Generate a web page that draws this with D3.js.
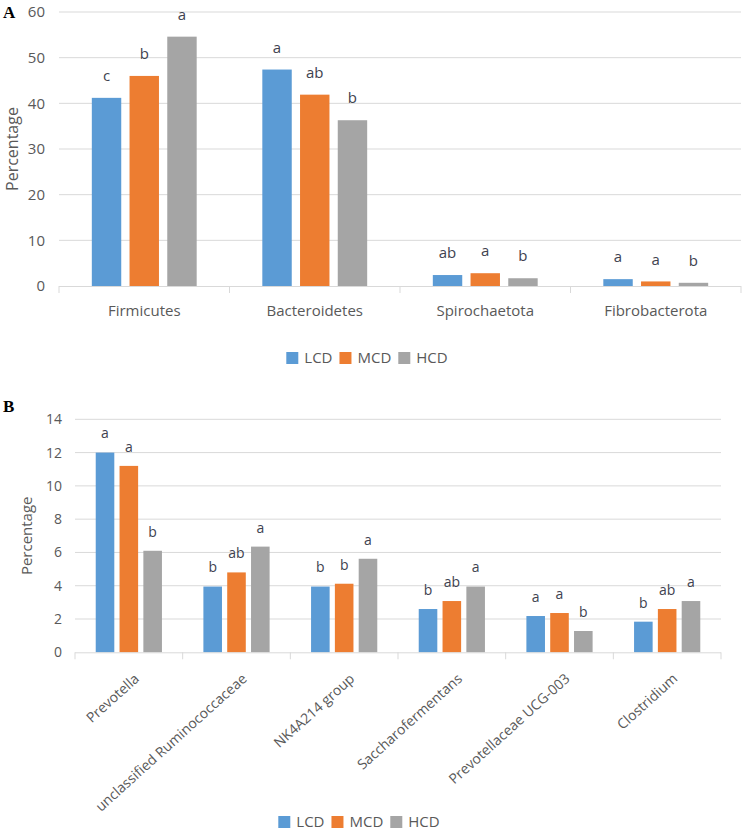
<!DOCTYPE html>
<html>
<head>
<meta charset="utf-8">
<script src="https://cdn.jsdelivr.net/npm/d3@7/dist/d3.min.js"></script>
<style>
  html, body { margin: 0; padding: 0; background: #ffffff; }
  svg { display: block; }
</style>
</head>
<body>
<svg id="chart" width="743" height="833"></svg>
<script>
// ---------- Data ----------
const seriesNames = ["LCD", "MCD", "HCD"];
const seriesColors = ["#5b9bd5", "#ed7d31", "#a5a5a5"];

const categoriesA = ["Firmicutes", "Bacteroidetes", "Spirochaetota", "Fibrobacterota"];
const lcdA = [41.2, 47.4, 2.4, 1.5];
const mcdA = [46.0, 41.9, 2.8, 1.0];
const hcdA = [54.6, 36.3, 1.7, 0.7];
const lettersLcdA = ["c", "a", "ab", "a"];
const lettersMcdA = ["b", "ab", "a", "a"];
const lettersHcdA = ["a", "b", "b", "b"];
const ticksA = [0, 10, 20, 30, 40, 50, 60];

const categoriesB = ["Prevotella", "unclassified Ruminococcaceae", "NK4A214 group",
                     "Saccharofermentans", "Prevotellaceae UCG-003", "Clostridium"];
const lcdB = [12.0, 3.95, 3.95, 2.6, 2.18, 1.84];
const mcdB = [11.2, 4.8, 4.12, 3.08, 2.36, 2.6];
const hcdB = [6.1, 6.35, 5.62, 3.95, 1.28, 3.08];
const lettersLcdB = ["a", "b", "b", "b", "a", "b"];
const lettersMcdB = ["a", "ab", "b", "ab", "a", "ab"];
const lettersHcdB = ["b", "a", "a", "a", "b", "a"];
const ticksB = [0, 2, 4, 6, 8, 10, 12, 14];

// ---------- Drawing ----------
const svg = d3.select("#chart");
const FONT = "'Open Sans', 'Noto Sans', sans-serif";
const GRID = "#d9d9d9";
const TXT = "#595959";
const LETTER = "#40424f";

function drawPanel(cfg) {
  const g = svg.append("g");
  const x0 = d3.scaleBand().domain(cfg.categories).range([cfg.left, cfg.right]).paddingInner(0).paddingOuter(0);
  const y = d3.scaleLinear().domain([0, cfg.yMax]).range([cfg.bottom, cfg.top]);
  const groupW = x0.bandwidth() * 0.615;
  const x1 = d3.scaleBand().domain(seriesNames).range([0, groupW]).paddingInner(0.22).paddingOuter(0);

  // gridlines
  g.append("g").selectAll("line").data(cfg.ticks.filter(t => t > 0)).join("line")
    .attr("x1", cfg.left).attr("x2", cfg.right)
    .attr("y1", d => y(d)).attr("y2", d => y(d))
    .attr("stroke", GRID).attr("stroke-width", 1);

  // y tick labels via axis
  const yAxis = d3.axisLeft(y).tickValues(cfg.ticks).tickSize(0).tickPadding(0).tickFormat(d3.format("d"));
  const ya = g.append("g").attr("transform", `translate(${cfg.yLabelRight},0)`).call(yAxis);
  ya.select(".domain").remove();
  ya.selectAll("text").attr("font-family", FONT).attr("font-size", cfg.tickFont).attr("fill", TXT);

  // bars
  const series = cfg.values.map((vals, i) => ({ name: seriesNames[i], color: seriesColors[i], vals, letters: cfg.letters[i] }));
  series.forEach(s => {
    const off = (x0.bandwidth() - groupW) / 2;
    g.append("g").selectAll("rect").data(cfg.categories.map((c, j) => ({ c, v: s.vals[j], l: s.letters[j] }))).join("rect")
      .attr("x", d => x0(d.c) + off + x1(s.name))
      .attr("width", x1.bandwidth())
      .attr("y", d => y(d.v))
      .attr("height", d => y(0) - y(d.v))
      .attr("fill", s.color);
    g.append("g").selectAll("text").data(cfg.categories.map((c, j) => ({ c, v: s.vals[j], l: s.letters[j] }))).join("text")
      .attr("x", d => x0(d.c) + off + x1(s.name) + x1.bandwidth() / 2)
      .attr("y", d => y(d.v) - cfg.letterOffset)
      .attr("dy", "0.35em")
      .attr("text-anchor", "middle")
      .attr("font-family", FONT).attr("font-size", cfg.letterFont).attr("fill", LETTER)
      .text(d => d.l);
  });

  // x axis line + boundary ticks
  g.append("line").attr("x1", cfg.left).attr("x2", cfg.right)
    .attr("y1", y(0) + 0.5).attr("y2", y(0) + 0.5).attr("stroke", GRID).attr("stroke-width", 1);
  const bounds = cfg.categories.map(c => x0(c)).concat([cfg.right]);
  g.append("g").selectAll("line").data(bounds).join("line")
    .attr("x1", d => d).attr("x2", d => d)
    .attr("y1", y(0)).attr("y2", y(0) + 7)
    .attr("stroke", GRID).attr("stroke-width", 1);

  // x category labels
  const xl = g.append("g").selectAll("text").data(cfg.categories).join("text")
    .attr("font-family", FONT).attr("font-size", cfg.catFont).attr("fill", TXT)
    .text(d => d);
  if (cfg.rotate) {
    xl.attr("text-anchor", "end").attr("dy", "0.35em")
      .attr("transform", d => `translate(${x0(d) + x0.bandwidth() / 2 + cfg.rotDx},${y(0) + cfg.rotDy}) rotate(${cfg.rotate})`);
  } else {
    xl.attr("text-anchor", "middle")
      .attr("x", d => x0(d) + x0.bandwidth() / 2)
      .attr("y", cfg.catY);
  }

  // y title
  g.append("text")
    .attr("transform", `translate(${cfg.yTitleX},${(cfg.top + cfg.bottom) / 2 + cfg.yTitleDy}) rotate(-90)`)
    .attr("text-anchor", "middle").attr("dy", "0.35em")
    .attr("font-family", FONT).attr("font-size", cfg.yTitleFont).attr("fill", TXT)
    .text("Percentage");

  // legend
  const lg = g.append("g");
  let cx = 0;
  seriesNames.forEach((n, i) => {
    lg.append("rect").attr("x", cx).attr("y", -6).attr("width", 12).attr("height", 12).attr("fill", seriesColors[i]);
    const t = lg.append("text").attr("x", cx + 18).attr("y", 0).attr("dy", "0.35em")
      .attr("font-family", FONT).attr("font-size", cfg.legendFont).attr("fill", TXT).text(n);
    cx += 18 + t.node().getComputedTextLength() + 7;
  });
  const lw = cx - 7;
  lg.attr("transform", `translate(${cfg.legendCx - lw / 2},${cfg.legendY})`);

  // panel letter
  svg.append("text").attr("x", cfg.panelX).attr("y", cfg.panelY)
    .attr("font-family", "'Liberation Serif', 'DejaVu Serif', serif").attr("font-weight", "bold")
    .attr("font-size", 17).attr("fill", "#000").text(cfg.panel);
}

drawPanel({
  panel: "A", panelX: 3, panelY: 18,
  categories: categoriesA, values: [lcdA, mcdA, hcdA], letters: [lettersLcdA, lettersMcdA, lettersHcdA],
  ticks: ticksA, yMax: 60,
  left: 59, right: 741, top: 12, bottom: 286,
  yLabelRight: 45, tickFont: 15,
  letterOffset: 22, letterFont: 15,
  catFont: 15, catY: 316,
  yTitleX: 12, yTitleDy: 0, yTitleFont: 16,
  legendCx: 367, legendY: 358, legendFont: 15
});

drawPanel({
  panel: "B", panelX: 3, panelY: 412,
  categories: categoriesB, values: [lcdB, mcdB, hcdB], letters: [lettersLcdB, lettersMcdB, lettersHcdB],
  ticks: ticksB, yMax: 14,
  left: 75, right: 721, top: 419.3, bottom: 652.3,
  yLabelRight: 62, tickFont: 14,
  letterOffset: 19, letterFont: 14,
  catFont: 14, rotate: -42, rotDx: 8, rotDy: 24,
  yTitleX: 27, yTitleDy: 0, yTitleFont: 15,
  legendCx: 359, legendY: 822, legendFont: 15
});
</script>
</body>
</html>
